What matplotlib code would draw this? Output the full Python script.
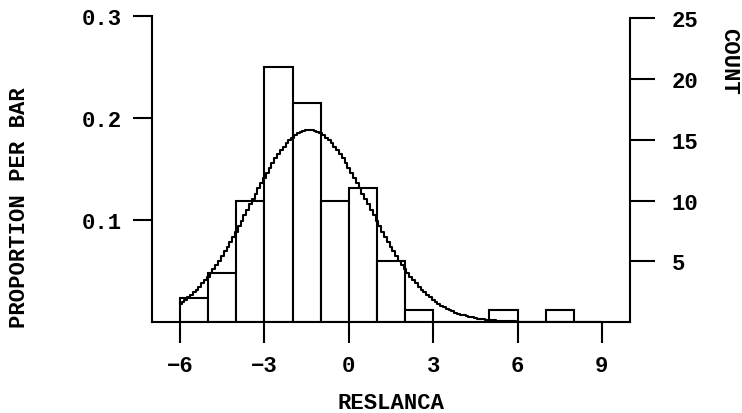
import numpy as np
import matplotlib
matplotlib.use('Agg')
import matplotlib.pyplot as plt

# histogram of RESLANCA, bins of width 1 from -6 to 9
bin_edges = np.arange(-6, 10, 1)
counts = [2, 4, 10, 21, 18, 10, 11, 5, 1, 0, 0, 1, 0, 1, 0]
n_total = sum(counts)

# fitted normal curve
curve_mean = -1.4
curve_sd = 2.12

x_ticks = [-6, -3, 0, 3, 6, 9]
prop_ticks = [0.1, 0.2, 0.3]
count_ticks = [5, 10, 15, 20, 25]

plt.rcParams['font.family'] = ['Liberation Mono', 'DejaVu Sans Mono']
plt.rcParams['font.weight'] = 'bold'
plt.rcParams['font.size'] = 16

fig = plt.figure(figsize=(7.42, 4.14), dpi=100)
ax = fig.add_axes([152/742, 1 - 323/414, (630-152)/742, (323-17)/414])

props = np.array(counts) / n_total
widths = np.diff(bin_edges)
ax.bar(bin_edges[:-1], props, width=widths, align='edge',
       facecolor='white', edgecolor='black', linewidth=1.5, zorder=2)

# normal curve scaled to bar proportions, drawn as a stepped line
xs = np.arange(-6, 9.01, 0.1)
ys = np.exp(-0.5 * ((xs - curve_mean) / curve_sd) ** 2) / (curve_sd * np.sqrt(2 * np.pi))
ax.plot(xs, ys * widths[0], drawstyle='steps-mid', color='black', lw=1.5, zorder=3)

ax.set_xlim(-7, 10)
ax.set_ylim(0, 0.3)
ax.set_xticks(x_ticks)
ax.set_yticks(prop_ticks)
ax.set_yticklabels(['0.1', '0.2', '0.3'])
ax.tick_params(axis='x', direction='out', length=15, width=1.5, pad=9)
ax.tick_params(axis='y', direction='out', length=14, width=1.5, pad=8)
for s in ['top', 'right']:
    ax.spines[s].set_visible(False)
ax.spines['left'].set_linewidth(1.5)
ax.spines['bottom'].set_linewidth(1.5)

ax2 = ax.twinx()
ax2.set_ylim(0, 0.3 * n_total)
ax2.set_yticks(count_ticks)
ax2.tick_params(axis='y', direction='out', length=18, width=1.5, pad=12)
for s in ['top', 'left', 'bottom']:
    ax2.spines[s].set_visible(False)
ax2.spines['right'].set_linewidth(1.5)
ax2.spines['right'].set_bounds(0, 25)

fig.text(391/742, 1 - 404/414, 'RESLANCA', ha='center', va='center')
fig.text(20/742, 1 - 208/414, 'PROPORTION PER BAR', rotation=90, ha='center', va='center')
fig.text(729/742, 1 - 28/414, 'COUNT', rotation=-90, ha='center', va='top')

fig.savefig('out.png', dpi=100)
